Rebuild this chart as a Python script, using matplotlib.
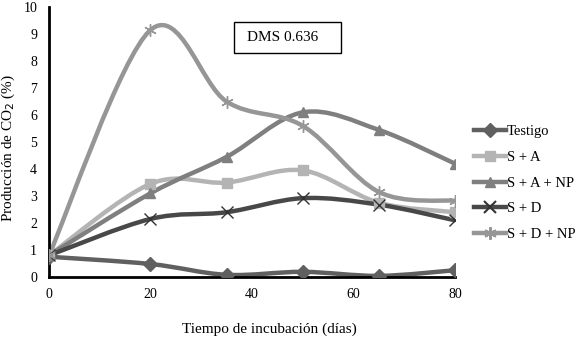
import matplotlib
matplotlib.use("Agg")
import matplotlib.pyplot as plt
from matplotlib.path import Path
from matplotlib.patches import PathPatch, Rectangle
from matplotlib.lines import Line2D

plt.rcParams['font.family'] = ['Liberation Serif', 'DejaVu Serif']

# days of incubation
dias = [0, 20, 35, 50, 65, 80]

# CO2 production (%) per treatment
testigo = [0.75, 0.48, 0.08, 0.19, 0.04, 0.25]
s_a = [0.8, 3.45, 3.5, 3.95, 2.75, 2.4]
s_a_np = [0.8, 3.1, 4.45, 6.1, 5.45, 4.2]
s_d = [0.8, 2.15, 2.4, 2.92, 2.68, 2.1]
s_d_np = [0.8, 9.15, 6.5, 5.6, 3.15, 2.82]

nombres = ["Testigo", "S + A", "S + A + NP", "S + D", "S + D + NP"]
series = [testigo, s_a, s_a_np, s_d, s_d_np]
colores = ["#606060", "#b4b4b4", "#7f7f7f", "#484848", "#969696"]
marcadores = ["D", "s", "^", "x", (6, 2, 0)]
tamanos = [7, 7, 7, 8, 9]

xtick_vals = [0, 20, 40, 60, 80]
ytick_vals = list(range(0, 11))


def smooth_path(xs, ys):
    # Excel-like smoothed line: cubic bezier segments (Catmull-Rom control points)
    pts = list(zip(xs, ys))
    verts = [pts[0]]
    codes = [Path.MOVETO]
    n = len(pts)
    for i in range(n - 1):
        p0 = pts[i - 1] if i > 0 else pts[i]
        p1 = pts[i]
        p2 = pts[i + 1]
        p3 = pts[i + 2] if i + 2 < n else pts[i + 1]
        c1 = (p1[0] + (p2[0] - p0[0]) / 6.0, p1[1] + (p2[1] - p0[1]) / 6.0)
        c2 = (p2[0] - (p3[0] - p1[0]) / 6.0, p2[1] - (p3[1] - p1[1]) / 6.0)
        verts += [c1, c2, p2]
        codes += [Path.CURVE4] * 3
    return Path(verts, codes)


fig = plt.figure(figsize=(5.81, 3.39), dpi=100)
ax = fig.add_axes([0.0843, 0.183, 0.6988, 0.796])

handles = []
for nombre, ys, c, m, s in zip(nombres, series, colores, marcadores, tamanos):
    patch = PathPatch(smooth_path(dias, ys), facecolor="none", edgecolor=c,
                      lw=3.2, capstyle="round", joinstyle="round", zorder=2)
    ax.add_patch(patch)
    if m in ("x", (6, 2, 0)):
        ax.plot(dias, ys, linestyle="none", marker=m, markersize=s,
                markeredgecolor=c if m != "x" else "#333333",
                markeredgewidth=1.0, zorder=3)
    else:
        ax.plot(dias, ys, linestyle="none", marker=m, markersize=s,
                color=c, markeredgecolor=c, zorder=3)
    handles.append(Line2D([0], [0], color=c, lw=3.2, marker=m, markersize=s,
                          markeredgecolor=c if m != "x" else "#333333",
                          markeredgewidth=1.5 if m in ("x", (6, 2, 0)) else 1.0))

ax.set_xlim(0, 80)
ax.set_ylim(0, 10)
ax.set_xticks(xtick_vals)
ax.set_yticks(ytick_vals)
ax.tick_params(length=0, labelsize=10, colors="black")
ax.tick_params(axis="x", pad=8)
ax.tick_params(axis="y", pad=8.5)
for side in ["top", "right"]:
    ax.spines[side].set_visible(False)
for side in ["left", "bottom"]:
    ax.spines[side].set_linewidth(2)
    ax.spines[side].set_color("black")

ax.set_xlabel("Tiempo de incubación (días)", fontsize=11)
ax.xaxis.set_label_coords(0.544, -0.17)
ax.set_ylabel("Producción de CO$_2$ (%)", fontsize=11)
ax.yaxis.set_label_coords(-0.079, 0.48)

# DMS box
ax.add_patch(Rectangle((0.456, 0.830), 0.263, 0.114, transform=ax.transAxes,
                       facecolor="white", edgecolor="black", linewidth=1,
                       zorder=4, clip_on=False))
ax.text(0.488, 0.887, "DMS 0.636", transform=ax.transAxes, fontsize=11,
        va="center", ha="left", zorder=5)

fig.legend(handles, nombres, loc="center left", bbox_to_anchor=(0.805, 0.46),
           frameon=False, fontsize=10.5, handlelength=2.2, handletextpad=0.1,
           labelspacing=0.85, borderaxespad=0)

fig.savefig("out.png", dpi=100)
